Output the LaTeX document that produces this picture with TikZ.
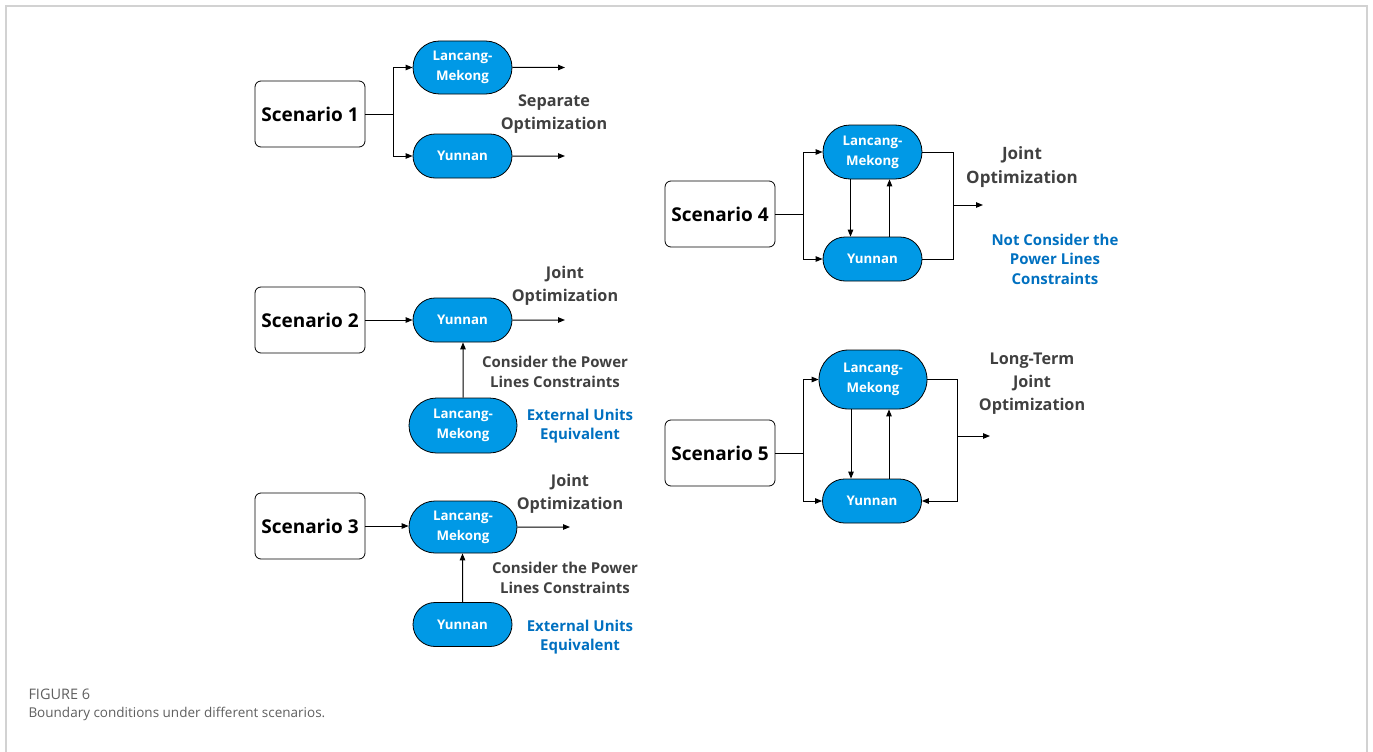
\documentclass[tikz,border=0pt]{standalone}
\usepackage{fontspec}
\setmainfont{Open Sans}
\usetikzlibrary{shapes.misc,arrows.meta}
\definecolor{areablue}{RGB}{0,153,230}
\definecolor{notegray}{RGB}{64,64,64}
\definecolor{noteblue}{RGB}{0,112,192}
\definecolor{capgray}{RGB}{95,95,95}
\definecolor{framegray}{RGB}{210,210,210}
\newcommand{\LM}{Lancang-\\Mekong}

\tikzset{
  scen/.style={draw, rounded corners=6pt, line width=0.8pt, minimum width=110pt,
    minimum height=66pt, font=\fontsize{19}{23}\selectfont\bfseries},
  area/.style={rounded rectangle, draw, fill=areablue, line width=0.8pt, text=white,
    align=center, inner sep=1pt, minimum width=101pt, minimum height=44pt,
    font=\fontsize{13.3}{20}\selectfont\bfseries},
  bigarea/.style={area, minimum width=110pt, minimum height=55pt},
  note/.style={align=center, text=notegray, font=\fontsize{16.2}{23}\selectfont\bfseries},
  smallnote/.style={align=center, text=notegray, font=\fontsize{15}{19.5}\selectfont\bfseries},
  bluenote/.style={align=center, text=noteblue, font=\fontsize{15}{19.5}\selectfont\bfseries},
}

\begin{document}
\begin{tikzpicture}[x=1pt, y=-1pt, line width=1pt, >={Triangle[length=7pt,width=5.5pt]}]
\useasboundingbox (0,0) rectangle (1373,752);
\draw[framegray, line width=1.5pt] (6,752) -- (6,6) -- (1367,6) -- (1367,752);

% Scenario 1
\node[scen] (S1) at (310,114) {Scenario 1};
\node[area, minimum height=53pt] (LM1) at (462.5,67.5) {\LM};
\node[area] (Yn1) at (462.5,156) {Yunnan};
\coordinate (b1) at (393,114);
\coordinate (o1a) at (565,67.5);
\coordinate (o1b) at (565,156);
\draw (S1) -- (b1);
\draw[->] (b1) |- (LM1);
\draw[->] (b1) |- (Yn1);
\draw[->] (LM1) -- (o1a);
\draw[->] (Yn1) -- (o1b);
\node[note] (t1) at (554,114) {Separate\\Optimization};

% Scenario 2
\node[scen] (S2) at (310,320) {Scenario 2};
\node[area] (Yn2) at (462.5,320) {Yunnan};
\node[bigarea] (LM2) at (463,425.5) {\LM};
\coordinate (o2) at (565,320);
\draw[->] (S2) -- (Yn2);
\draw[->] (Yn2) -- (o2);
\draw[->] (LM2) -- (LM2 |- Yn2.south);
\node[note] (t2) at (565,286) {Joint\\Optimization};
\node[smallnote] (c2) at (555,372) {Consider the Power\\Lines Constraints};
\node[bluenote] (e2) at (580,426) {External Units\\Equivalent};

% Scenario 3
\node[scen] (S3) at (310,526) {Scenario 3};
\node[bigarea, minimum height=52pt] (LM3) at (463,527) {\LM};
\node[area] (Yn3) at (462.5,624.5) {Yunnan};
\coordinate (o3) at (570,527);
\draw[->] (S3) -- (S3 -| LM3.west);
\draw[->] (LM3) -- (o3);
\draw[->] (Yn3) -- (Yn3 |- LM3.south);
\node[note] (t3) at (570,494) {Joint\\Optimization};
\node[smallnote] (c3) at (565,578) {Consider the Power\\Lines Constraints};
\node[bluenote] (e3) at (580,637) {External Units\\Equivalent};

% Scenario 4
\node[scen] (S4) at (720,214) {Scenario 4};
\node[area, minimum height=54pt] (LM4) at (872.5,152) {\LM};
\node[area] (Yn4) at (872.5,259) {Yunnan};
\coordinate (b4) at (803,214);
\coordinate (m4) at (953,205);
\coordinate (o4) at (983,205);
\draw (S4) -- (b4);
\draw[->] (b4) |- (LM4);
\draw[->] (b4) |- (Yn4);
\draw[->] ([xshift=-22pt]LM4.south) -- ([xshift=-22pt]LM4.south |- Yn4.north);
\draw[->] ([xshift=17pt]Yn4.north) -- ([xshift=17pt]Yn4.north |- LM4.south);
\draw (LM4) -| (m4) |- (Yn4);
\draw[->] (m4) -- (o4);
\node[note, font=\fontsize{17}{24}\selectfont\bfseries] (t4) at (1022,167) {Joint\\Optimization};
\node[bluenote] (n4) at (1055,259) {Not Consider the\\Power Lines\\Constraints};

% Scenario 5
\node[scen] (S5) at (720,453) {Scenario 5};
\node[bigarea, minimum height=59pt] (LM5) at (873,379.5) {\LM};
\node[area] (Yn5) at (872,501) {Yunnan};
\coordinate (b5) at (803,453);
\coordinate (m5) at (957,436);
\coordinate (o5) at (990,436);
\draw (S5) -- (b5);
\draw[->] (b5) |- (LM5);
\draw[->] (b5) |- (Yn5);
\draw[->] ([xshift=-22pt]LM5.south) -- ([xshift=-22pt]LM5.south |- Yn5.north);
\draw[->] ([xshift=17pt]Yn5.north) -- ([xshift=17pt]Yn5.north |- LM5.south);
\draw[->] (LM5) -| (m5) |- (Yn5);
\draw[->] (m5) -- (o5);
\node[note] (t5) at (1032,384) {Long-Term\\Joint\\Optimization};

% caption
\node[anchor=west, text=capgray, font=\fontsize{14.5}{16}\selectfont, inner sep=0pt] (fig) at (28,694) {FIGURE 6};
\node[anchor=west, text=capgray, font=\fontsize{13.5}{16}\selectfont, inner sep=0pt] (cap) at (28,714) {Boundary conditions under different scenarios.};
\end{tikzpicture}
\end{document}
